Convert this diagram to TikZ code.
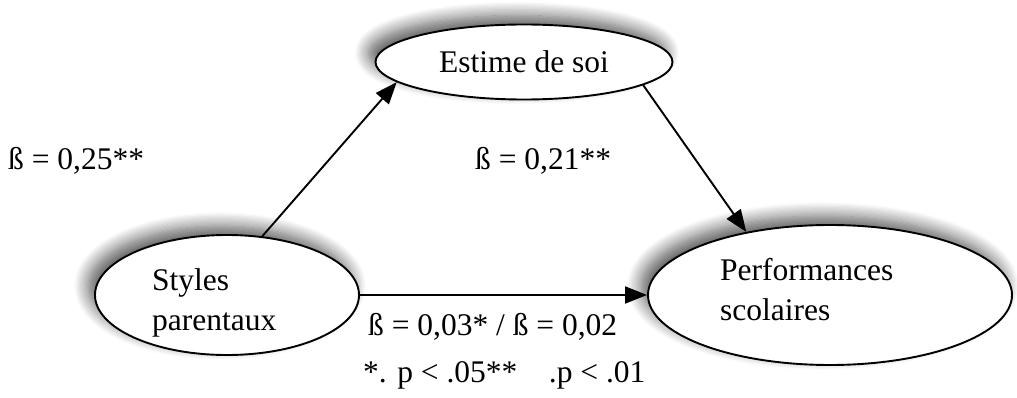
\documentclass[tikz,border=0pt]{standalone}
\usepackage{fontspec}
\setmainfont{Liberation Serif}
\usetikzlibrary{shapes.geometric,arrows.meta,shadows.blur}
\begin{document}
\begin{tikzpicture}[x=1pt,y=-1pt,
  font=\fontsize{31.5}{40}\selectfont,
  oval/.style={ellipse, draw, line width=1.9pt, fill=white, inner sep=0pt,
    blur shadow={shadow xshift=-7pt, shadow yshift=9pt, shadow blur radius=14pt, shadow blur steps=12, shadow opacity=65}},
  txt/.style={inner sep=0pt, anchor=base west},
  intxt/.style={inner sep=0pt, anchor=north west, align=left},
  arr/.style={line width=1.9pt, -{Triangle[length=22pt,width=17pt]}}]
\useasboundingbox (0,0) rectangle (1017,398);
\node[oval, minimum width=297pt, minimum height=75pt] (est) at (524,62) {Estime de soi};
\node[oval, minimum width=264pt, minimum height=120pt] (sty) at (227,295) {};
\node[oval, minimum width=364pt, minimum height=140pt] (perf) at (830,295) {};
\node[intxt] (stytxt) at (152,268) {Styles\\parentaux};
\node[intxt] (perftxt) at (720,258) {Performances\\scolaires};
\draw[arr] (sty.59) -- (est.189);
\draw[arr] (est.349) -- (perf.143);
\draw[arr] (sty.east) -- (perf.west);
\node[txt] (b1) at (8,170) {ß = 0,25**};
\node[txt] (b2) at (475,170) {ß = 0,21**};
\node[txt] (b3) at (368,335) {ß = 0,03* / ß = 0,02};
\node[txt] (note) at (363,382) {*. p < .05**\quad .p < .01};
\end{tikzpicture}
\end{document}
